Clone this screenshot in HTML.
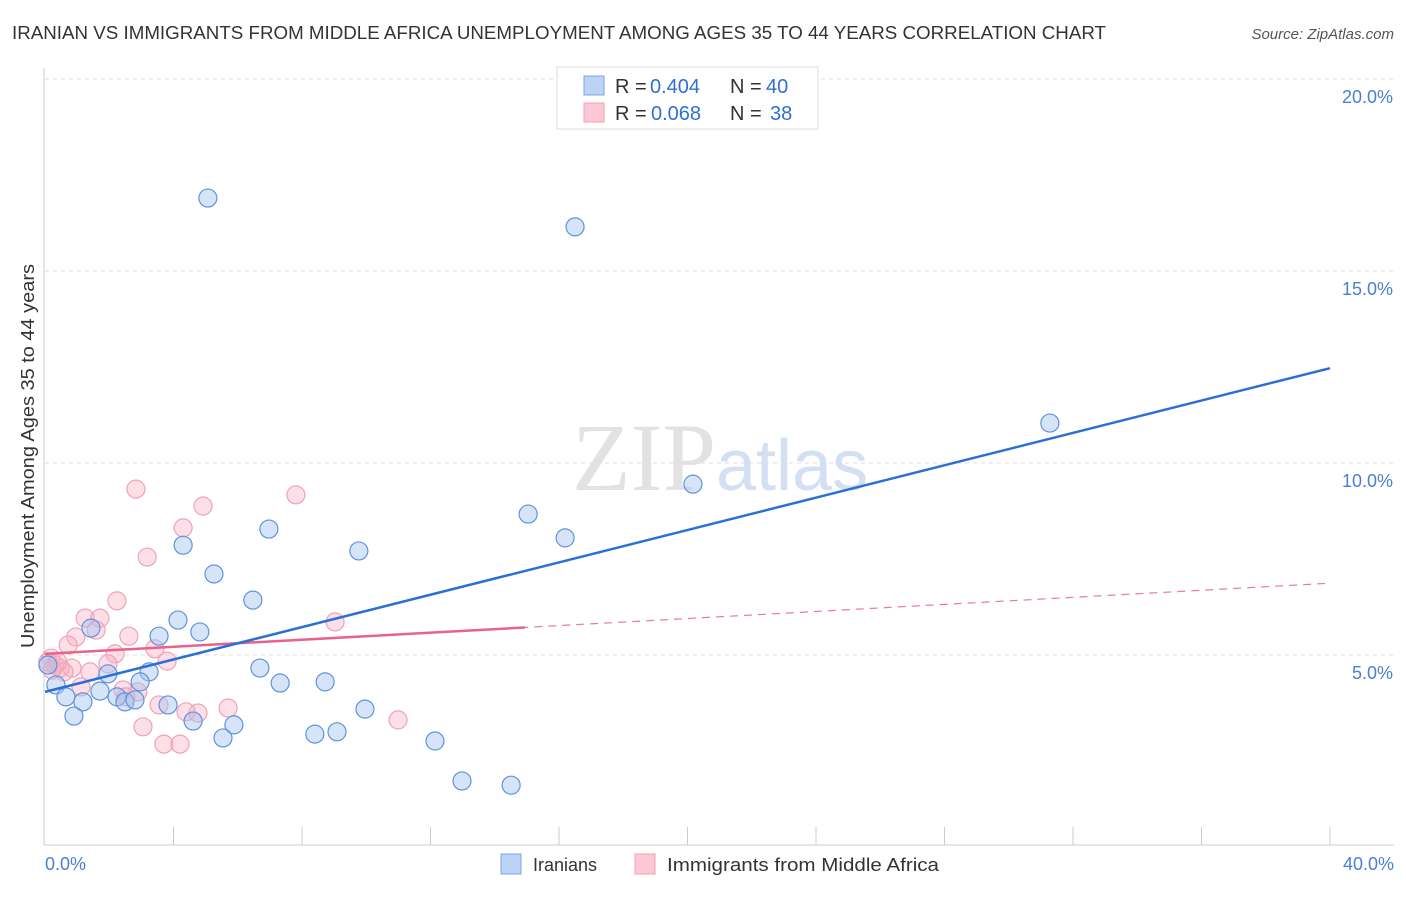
<!DOCTYPE html>
<html><head><meta charset="utf-8">
<style>
body{margin:0;background:#fff;font-family:"Liberation Sans",sans-serif;}
svg text{font-family:"Liberation Sans",sans-serif;}
</style></head>
<body>
<svg id="chart" width="1406" height="892" xmlns="http://www.w3.org/2000/svg">
<text x="12" y="39" font-size="18" fill="#333" textLength="1094" lengthAdjust="spacingAndGlyphs">IRANIAN VS IMMIGRANTS FROM MIDDLE AFRICA UNEMPLOYMENT AMONG AGES 35 TO 44 YEARS CORRELATION CHART</text>
<text x="1394" y="39" font-size="15" fill="#555" text-anchor="end" font-style="italic">Source: ZipAtlas.com</text>
<g id="grid"></g>
<text x="716" y="490" font-size="96" text-anchor="end" fill="#e2e2e2" style="font-family:'Liberation Serif',serif">ZIP</text>
<text x="716" y="490" font-size="72" fill="#d3e0f3">atlas</text>
<g id="marks"></g>
<text transform="translate(34,456) rotate(-90)" font-size="18" fill="#333" text-anchor="middle" textLength="384" lengthAdjust="spacingAndGlyphs">Unemployment Among Ages 35 to 44 years</text>
<text x="45" y="870" font-size="18" fill="#4a7fd6">0.0%</text>
<text x="1394" y="870" font-size="18" fill="#4a7fd6" text-anchor="end">40.0%</text>
<g>
<rect x="557" y="67" width="261" height="62" fill="#fff" stroke="#ddd"/>
<rect x="584" y="76" width="20" height="19" fill="#bcd3f5" stroke="#7aa5e6"/>
<rect x="584" y="103" width="20" height="19" fill="#fcc8d6" stroke="#f0a0b8"/>
<text x="615" y="93" font-size="20" fill="#333">R =</text>
<text x="650" y="93" font-size="20" fill="#2f6fd6">0.404</text>
<text x="730" y="93" font-size="20" fill="#333">N =</text>
<text x="766" y="93" font-size="20" fill="#2f6fd6">40</text>
<text x="615" y="120" font-size="20" fill="#333">R =</text>
<text x="651" y="120" font-size="20" fill="#2f6fd6">0.068</text>
<text x="730" y="120" font-size="20" fill="#333">N =</text>
<text x="770" y="120" font-size="20" fill="#2f6fd6">38</text>
</g>
<g>
<rect x="501" y="854" width="20" height="20" fill="#bcd3f5" stroke="#7aa5e6"/>
<text x="533" y="871" font-size="18" fill="#333">Iranians</text>
<rect x="635" y="854" width="20" height="20" fill="#fcc8d6" stroke="#f0a0b8"/>
<text x="667" y="871" font-size="18" fill="#333" textLength="272" lengthAdjust="spacingAndGlyphs">Immigrants from Middle Africa</text>
</g>
</svg>
<script>
const blueX=[5.07,16.50,31.28,20.17,15.04,16.19,4.30,6.97,9.77,5.26,6.47,4.14,1.43,4.82,3.55,3.24,1.96,6.69,7.32,8.72,2.96,0.34,1.71,2.24,2.49,2.80,1.18,0.65,3.83,9.96,0.90,4.61,5.88,5.54,8.40,9.09,12.14,12.98,14.51,0.09];
const blueY=[16.90,16.15,11.04,9.45,8.67,8.05,7.86,8.28,7.71,7.11,6.43,5.91,5.70,5.60,5.49,4.56,4.51,4.66,4.27,4.30,4.30,4.22,4.06,3.91,3.78,3.83,3.78,3.91,3.70,3.59,3.41,3.28,3.18,2.84,2.94,3.00,2.76,1.72,1.61,4.74];
const pinkX=[2.83,7.81,4.92,4.30,3.18,2.24,1.25,1.71,1.59,0.96,0.72,2.61,3.42,2.18,3.80,1.96,0.19,0.31,0.47,0.84,1.40,0.59,1.12,2.43,2.89,2.52,9.03,3.55,4.39,4.76,5.70,3.05,3.70,4.20,10.99,0.09,0.40,0.22];
const pinkY=[9.32,9.17,8.88,8.31,7.55,6.41,5.96,5.96,5.65,5.47,5.26,5.49,5.16,5.03,4.84,4.77,4.92,4.74,4.66,4.66,4.56,4.56,4.17,4.09,4.04,3.91,5.86,3.70,3.52,3.49,3.62,3.13,2.68,2.68,3.31,4.82,4.82,4.61];
const yTicks=[5,10,15,20];
const yTickLabels=["5.0%","10.0%","15.0%","20.0%"];
const blueTrend=[4.04,12.47];
const pinkTrend=[5.03,6.87];
const pinkSolidEnd=14.94;
const NS="http://www.w3.org/2000/svg";
const sx=v=>45+v/40*1285, sy=v=>847-v/5*192;
function mk(tag,attrs,parent){const e=document.createElementNS(NS,tag);for(const k in attrs)e.setAttribute(k,attrs[k]);parent.appendChild(e);return e;}
const grid=document.getElementById('grid'), marks=document.getElementById('marks');
yTicks.forEach((t,i)=>{
 let l=mk('line',{x1:45,x2:1394,y1:sy(t),y2:sy(t),stroke:'#ddd','stroke-dasharray':'4,4'},grid);
 
 
 let tx=mk('text',{x:1393,y:sy(t)+24,'font-size':18,fill:'#4a7fd6','text-anchor':'end'},grid);
 tx.textContent=yTickLabels[i];
 
 
});
let ax=mk('line',{x1:44,x2:44,y1:68,y2:845,stroke:'#ccc'},grid);


let bx=mk('line',{x1:44,x2:1394,y1:845,y2:845,stroke:'#ccc'},grid);


for(let i=1;i<=10;i++){
 let t=mk('line',{x1:sx(i*4),x2:sx(i*4),y1:827,y2:845,stroke:'#ccc'},grid);
 
 
}
function pts(X,Y,fill,stroke,name){X.forEach((x,i)=>{
 let c=mk('circle',{cx:sx(x),cy:sy(Y[i]),r:9,fill:fill,stroke:stroke,'stroke-width':1.2},marks);
 
 
});}
pts(pinkX,pinkY,'rgba(248,175,195,0.4)','#efa2ba','pink-point');
pts(blueX,blueY,'rgba(165,195,240,0.45)','#5f93dd','blue-point');
let pd=mk('line',{x1:sx(0),y1:sy(pinkTrend[0]),x2:sx(40),y2:sy(pinkTrend[1]),stroke:'#e87a9c','stroke-width':1.2,'stroke-dasharray':'8,6'},marks);


const pe=pinkTrend[0]+(pinkTrend[1]-pinkTrend[0])*pinkSolidEnd/40;
let ps=mk('line',{x1:sx(0),y1:sy(pinkTrend[0]),x2:sx(pinkSolidEnd),y2:sy(pe),stroke:'#e8628c','stroke-width':2.5},marks);


let bl=mk('line',{x1:sx(0),y1:sy(blueTrend[0]),x2:sx(40),y2:sy(blueTrend[1]),stroke:'#2a6fd6','stroke-width':2.5},marks);


</script>
</body></html>
